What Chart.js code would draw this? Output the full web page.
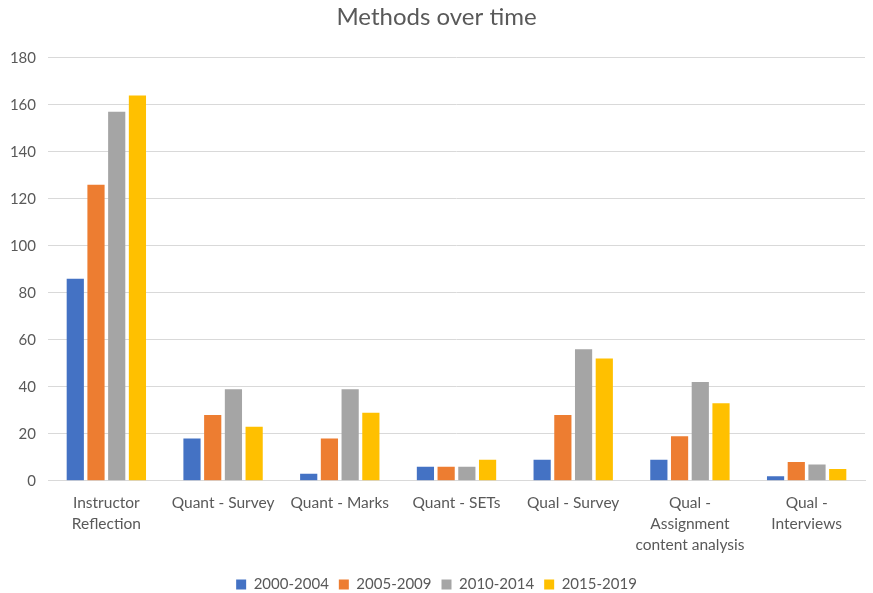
<!DOCTYPE html>
<html>
<head>
<meta charset="utf-8">
<script src="https://cdn.jsdelivr.net/npm/chart.js@4/dist/chart.umd.min.js"></script>
<style>
  html, body { margin: 0; padding: 0; background: #ffffff; }
  #wrap { width: 873px; height: 593px; }
</style>
</head>
<body>
<div id="wrap"><canvas id="chart" width="873" height="593"></canvas></div>
<script>
// Study methods, counted per five-year period
const categories = [
  ["Instructor", "Reflection"],
  "Quant - Survey",
  "Quant - Marks",
  "Quant - SETs",
  "Qual - Survey",
  ["Qual -", "Assignment", "content analysis"],
  ["Qual -", "Interviews"]
];
const seriesNames = ["2000-2004", "2005-2009", "2010-2014", "2015-2019"];
const values2000 = [86, 18, 3, 6, 9, 9, 2];
const values2005 = [126, 28, 18, 6, 28, 19, 8];
const values2010 = [157, 39, 39, 6, 56, 42, 7];
const values2015 = [164, 23, 29, 9, 52, 33, 5];
const seriesColors = ["#4472C4", "#ED7D31", "#A5A5A5", "#FFC000"];
const yTicks = { min: 0, max: 180, step: 20 };

const FONT = "Lato, 'Liberation Sans', sans-serif";
const TEXT = "#595959";

const seriesValues = [values2000, values2005, values2010, values2015];
const datasets = seriesNames.map((name, i) => ({
  label: name,
  data: seriesValues[i],
  backgroundColor: seriesColors[i],
  borderWidth: 0,
  categoryPercentage: 0.71,
  barPercentage: 0.83
}));

new Chart(document.getElementById("chart"), {
  type: "bar",
  data: { labels: categories, datasets },
  options: {
    responsive: false,
    animation: false,
    layout: { padding: { left: 8, right: 8, top: 3, bottom: -9 } },
    plugins: {
      title: {
        display: true,
        text: "Methods over time",
        color: TEXT,
        font: { family: FONT, size: 24, weight: "normal" },
        padding: { top: 0, bottom: 26 }
      },
      legend: {
        position: "bottom",
        labels: {
          color: TEXT,
          font: { family: FONT, size: 15 },
          boxWidth: 10,
          boxHeight: 10,
          padding: 10
        }
      },
      tooltip: { enabled: false }
    },
    scales: {
      x: {
        grid: { display: false, drawTicks: false },
        border: { color: "#d9d9d9" },
        ticks: {
          color: TEXT,
          font: { family: FONT, size: 15.5, lineHeight: 1.38 },
          maxRotation: 0,
          autoSkip: false,
          padding: 11
        }
      },
      y: {
        min: yTicks.min,
        max: yTicks.max,
        grid: { color: "#d9d9d9", lineWidth: 1, drawTicks: false },
        border: { display: false },
        ticks: {
          stepSize: yTicks.step,
          color: TEXT,
          font: { family: FONT, size: 15 },
          padding: 12
        },
        afterFit(scale) { scale.width = 40; }
      }
    }
  }
});
</script>
</body>
</html>
